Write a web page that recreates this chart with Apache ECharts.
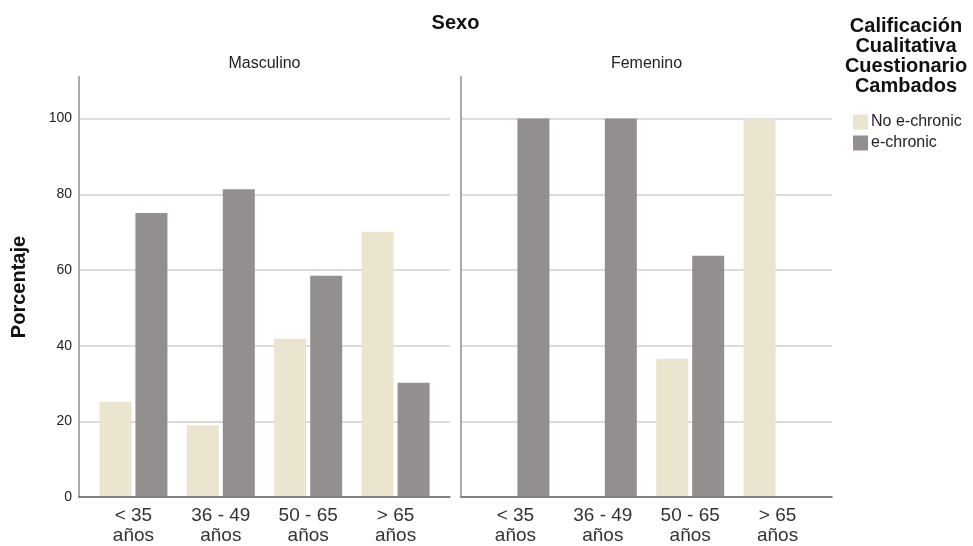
<!DOCTYPE html>
<html>
<head>
<meta charset="utf-8">
<script src="https://cdn.jsdelivr.net/npm/echarts@6/dist/echarts.min.js"></script>
<style>
html,body{margin:0;padding:0;background:#fff;}
#chart{width:973px;height:546px;}
</style>
</head>
<body>
<div id="chart"></div>
<script>
// ---- data ----
const categories = ['< 35\naños', '36 - 49\naños', '50 - 65\naños', '> 65\naños'];
const panels = ['Masculino', 'Femenino'];
const seriesNames = ['No e-chronic', 'e-chronic'];
const masculinoNoEchronic = [25, 18.75, 41.67, 70];
const masculinoEchronic = [75, 81.25, 58.33, 30];
const femeninoNoEchronic = [0, 0, 36.36, 100];
const femeninoEchronic = [100, 100, 63.64, 0];
const yMin = 0, yMax = 111, yInterval = 20;

// ---- styling ----
const FONT = "'Liberation Sans', Arial, sans-serif";
const colors = ['#EBE5D0', '#938F8E'];
const panelLeft = [79, 461];
const panelWidth = 371;
const innerPad = 10.75;
const gridTop = 77, gridBottom = 546 - 497;
const titleShift = -5;

const grids = [], xAxes = [], yAxes = [], series = [], titles = [];
const panelData = [[masculinoNoEchronic, masculinoEchronic], [femeninoNoEchronic, femeninoEchronic]];

panels.forEach((p, i) => {
  grids.push({left: panelLeft[i], width: panelWidth, top: gridTop, bottom: gridBottom});
  grids.push({left: panelLeft[i] + innerPad, width: panelWidth - 2 * innerPad, top: gridTop, bottom: gridBottom});
  const gA = i * 2, gB = i * 2 + 1;
  xAxes.push({
    type: 'category', gridIndex: gA, data: categories,
    axisLine: {show: true, lineStyle: {color: '#666', width: 1.5}},
    axisTick: {show: false}, axisLabel: {show: false}, splitLine: {show: false}
  });
  xAxes.push({
    type: 'category', gridIndex: gB, data: categories,
    axisLine: {show: false}, axisTick: {show: false},
    axisLabel: {show: true, color: '#333', fontFamily: FONT, fontSize: 19, lineHeight: 20, margin: 10, interval: 0}
  });
  yAxes.push({
    type: 'value', gridIndex: gA, min: yMin, max: yMax, interval: yInterval,
    name: i === 0 ? 'Porcentaje' : '', nameLocation: 'middle', nameGap: 50,
    nameTextStyle: {fontFamily: FONT, fontSize: 20, fontWeight: 'bold', color: '#111'},
    axisLine: {show: true, lineStyle: {color: '#aaa', width: 2}},
    axisTick: {show: false},
    axisLabel: {show: i === 0, color: '#222', fontFamily: FONT, fontSize: 14, margin: 7,
      formatter: v => (v > 100 ? '' : String(v))},
    splitLine: {show: true, lineStyle: {color: ['#cfcfcf', '#cfcfcf', '#cfcfcf', '#cfcfcf', '#cfcfcf', '#cfcfcf', 'rgba(0,0,0,0)'], width: 1.5}}
  });
  yAxes.push({
    type: 'value', gridIndex: gB, min: yMin, max: yMax, interval: yInterval, show: false,
    splitLine: {show: false}
  });
  seriesNames.forEach((s, k) => {
    series.push({
      name: s, type: 'bar', xAxisIndex: gB, yAxisIndex: gB,
      data: panelData[i][k], barWidth: 32, barGap: '12.5%',
      itemStyle: {color: colors[k]}, silent: true, animation: false
    });
  });
  titles.push({
    text: p, left: panelLeft[i] + panelWidth / 2 + titleShift, top: 51, textAlign: 'center',
    textStyle: {fontFamily: FONT, fontSize: 16, fontWeight: 'normal', color: '#222'}
  });
});

titles.push({
  text: 'Sexo', left: 455.5 + titleShift, top: 8, textAlign: 'center',
  textStyle: {fontFamily: FONT, fontSize: 20, fontWeight: 'bold', color: '#111'}
});
titles.push({
  text: 'Calificación\nCualitativa\nCuestionario\nCambados', left: 906 + titleShift, top: 11, textAlign: 'center',
  textStyle: {fontFamily: FONT, fontSize: 20, fontWeight: 'bold', color: '#111', lineHeight: 20, align: 'center'}
});

const option = {
  animation: false,
  title: titles,
  legend: {
    data: seriesNames, orient: 'vertical', left: 848, top: 109,
    itemWidth: 15, itemHeight: 15, itemGap: 5, icon: 'rect',
    textStyle: {fontFamily: FONT, fontSize: 16, color: '#222', padding: [0, 0, 0, -2]}
  },
  grid: grids, xAxis: xAxes, yAxis: yAxes, series: series
};

const chart = echarts.init(document.getElementById('chart'), null, {renderer: 'canvas'});
chart.setOption(option);
</script>
</body>
</html>
